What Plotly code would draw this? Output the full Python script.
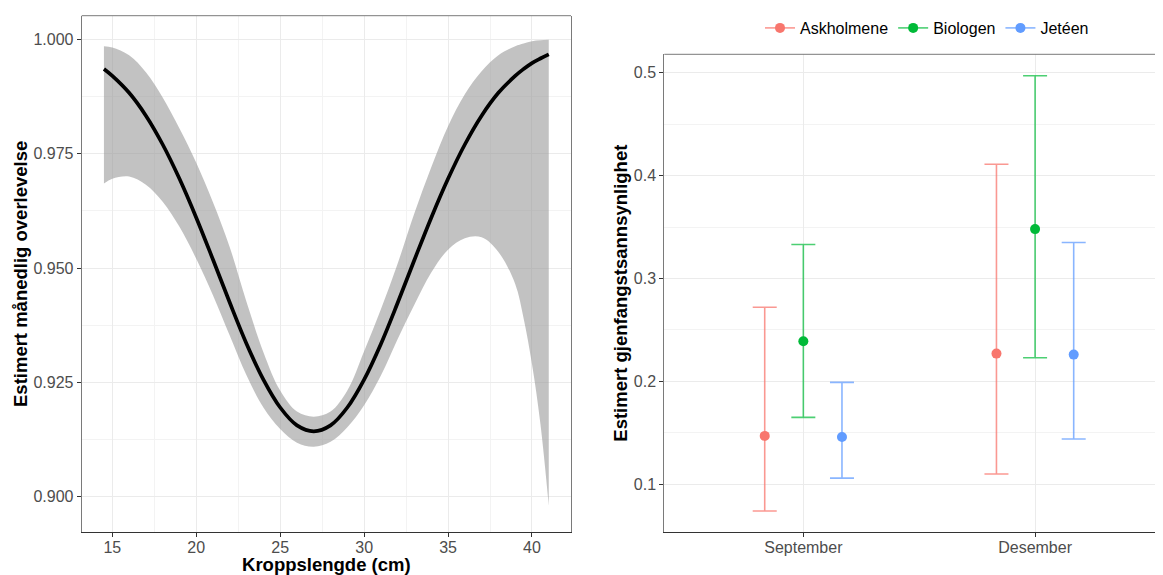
import plotly.graph_objects as go

# ---------------- Left panel data: monthly survival vs body length ----------------
length_cm = [14.5, 15, 16, 17, 18, 19, 20, 21, 22, 23, 24, 25, 26, 27, 28, 29, 30,
             31, 32, 33, 34, 35, 36, 37, 38, 39, 39.5, 40, 40.5, 41]
survival_est = [0.9935, 0.9920, 0.9883, 0.9833, 0.9770, 0.9695, 0.9610, 0.9518, 0.9424,
                0.9334, 0.9256, 0.9195, 0.9156, 0.9143, 0.9156, 0.9195, 0.9256, 0.9334,
                0.9424, 0.9518, 0.9610, 0.9695, 0.9770, 0.9833, 0.9883, 0.9920, 0.9935,
                0.9948, 0.9958, 0.9967]
survival_upper = [0.9985, 0.9982, 0.9965, 0.9928, 0.9873, 0.9805, 0.9730, 0.9643, 0.9545,
                  0.9425, 0.9316, 0.9232, 0.9186, 0.9175, 0.9186, 0.9232, 0.9318, 0.9410,
                  0.9510, 0.9620, 0.9720, 0.9810, 0.9880, 0.9930, 0.9965, 0.9985, 0.9991,
                  0.9996, 0.9998, 0.9999]
survival_lower = [0.9685, 0.9695, 0.9700, 0.9682, 0.9645, 0.9590, 0.9520, 0.9440, 0.9352,
                  0.9265, 0.9195, 0.9148, 0.9118, 0.9109, 0.9120, 0.9152, 0.9200, 0.9265,
                  0.9345, 0.9420, 0.9490, 0.9540, 0.9565, 0.9567, 0.9535, 0.9465, 0.9390,
                  0.9290, 0.9160, 0.8980]

x_ticks_left = [15, 20, 25, 30, 35, 40]
y_ticks_left = [0.900, 0.925, 0.950, 0.975, 1.000]
y_ticklabels_left = ["0.900", "0.925", "0.950", "0.975", "1.000"]

# ---------------- Right panel data: recapture probability ----------------
months = ["September", "Desember"]
sites = ["Askholmene", "Biologen", "Jetéen"]
site_colors = ["#F8766D", "#00BA38", "#619CFF"]
site_bar_colors = ["rgba(248,118,109,0.75)", "rgba(0,186,56,0.7)", "rgba(97,156,255,0.75)"]

askholmene_est = [0.147, 0.227]
askholmene_lo = [0.074, 0.110]
askholmene_hi = [0.272, 0.411]
biologen_est = [0.239, 0.348]
biologen_lo = [0.165, 0.223]
biologen_hi = [0.333, 0.497]
jeteen_est = [0.146, 0.226]
jeteen_lo = [0.106, 0.144]
jeteen_hi = [0.199, 0.335]

y_ticks_right = [0.1, 0.2, 0.3, 0.4, 0.5]

site_est = [askholmene_est, biologen_est, jeteen_est]
site_lo = [askholmene_lo, biologen_lo, jeteen_lo]
site_hi = [askholmene_hi, biologen_hi, jeteen_hi]
month_pos = [1, 2]
dodge = [-1 / 6, 0, 1 / 6]

# the page body has an 8px margin; size the figure so it lands on the window
OFF = 8
W, H = 1163 - OFF, 575 - OFF
FONT = "Liberation Sans, Arial, sans-serif"
TICK_COLOR = "#4D4D4D"
GRID = "#EBEBEB"
SMOOTH = 1.0

fig = go.Figure()

# Confidence band (left)
fig.add_trace(go.Scatter(x=length_cm, y=survival_upper, mode="lines",
                         line=dict(width=0, shape="spline", smoothing=SMOOTH),
                         showlegend=False, hoverinfo="skip", xaxis="x", yaxis="y"))
fig.add_trace(go.Scatter(x=length_cm, y=survival_lower, mode="lines",
                         line=dict(width=0, shape="spline", smoothing=SMOOTH),
                         fill="tonexty", fillcolor="rgba(153,153,153,0.6)",
                         showlegend=False, hoverinfo="skip", xaxis="x", yaxis="y"))
fig.add_trace(go.Scatter(x=length_cm, y=survival_est, mode="lines",
                         line=dict(color="black", width=3.7, shape="spline", smoothing=SMOOTH),
                         showlegend=False, xaxis="x", yaxis="y"))

# Point ranges (right)
for i, site in enumerate(sites):
    xs = [m + dodge[i] for m in month_pos]
    ys = site_est[i]
    plus = [h - e for h, e in zip(site_hi[i], ys)]
    minus = [e - l for e, l in zip(ys, site_lo[i])]
    fig.add_trace(go.Scatter(
        x=xs, y=ys, mode="markers",
        marker=dict(color=site_colors[i], size=10),
        error_y=dict(type="data", symmetric=False, array=plus, arrayminus=minus,
                     color=site_bar_colors[i], thickness=1.6, width=12),
        showlegend=False, xaxis="x2", yaxis="y2"))
    # legend key (point + line, like a pointrange key)
    fig.add_trace(go.Scatter(
        x=[None], y=[None], mode="lines+markers", name=site,
        line=dict(color=site_bar_colors[i], width=1.6),
        marker=dict(color=site_colors[i], size=10),
        showlegend=True, xaxis="x2", yaxis="y2"))


def px_x(v):
    return (v - OFF) / W


def px_y(v):
    return 1 - (v - OFF) / H


left_x0, left_x1 = px_x(81.7), px_x(571)
left_y0, left_y1 = px_y(532), px_y(15.7)
right_x0, right_x1 = px_x(664.3), 1.0
right_y0, right_y1 = px_y(532), px_y(54.3)

common_axis = dict(ticks="outside", ticklen=4, tickcolor="#333333", tickwidth=1,
                   tickfont=dict(family=FONT, size=16, color=TICK_COLOR),
                   showline=True, zeroline=False, gridcolor=GRID, gridwidth=1.1)

fig.update_layout(
    width=W, height=H,
    margin=dict(l=0, r=0, t=0, b=0),
    paper_bgcolor="white", plot_bgcolor="white",
    font=dict(family=FONT, color="black"),
    xaxis=dict(domain=[left_x0, left_x1], range=[13.175, 42.325],
               tickvals=x_ticks_left, linecolor="#333333", mirror=False,
               ticklabelstandoff=-3,
               minor=dict(tickvals=[17.5, 22.5, 27.5, 32.5, 37.5, 42.5], showgrid=True,
                          gridcolor="#F3F3F3", gridwidth=0.8, ticks=""),
               title=dict(text="<b>Kroppslengde (cm)</b>", standoff=3,
                          font=dict(family=FONT, size=18.5, color="black")),
               anchor="y", **common_axis),
    yaxis=dict(domain=[left_y0, left_y1], range=[0.89228, 1.00516],
               tickvals=y_ticks_left, ticktext=y_ticklabels_left,
               linecolor="#7A7A7A", mirror=True,
               minor=dict(tickvals=[0.9125, 0.9375, 0.9625, 0.9875], showgrid=True,
                          gridcolor="#F3F3F3", gridwidth=0.8, ticks=""),
               title=dict(text="<b>Estimert månedlig overlevelse</b>", standoff=0,
                          font=dict(family=FONT, size=18.5, color="black")),
               anchor="x", **common_axis),
    xaxis2=dict(domain=[right_x0, right_x1], range=[0.4, 2.552],
                tickvals=month_pos, ticktext=months, linecolor="#333333", mirror=False,
                ticklabelstandoff=-3,
                anchor="y2", **common_axis),
    yaxis2=dict(domain=[right_y0, right_y1], range=[0.0536, 0.5179],
                tickvals=y_ticks_right, ticktext=["0.1", "0.2", "0.3", "0.4", "0.5"],
                linecolor="#7A7A7A", mirror=False,
                minor=dict(tickvals=[0.15, 0.25, 0.35, 0.45], showgrid=True,
                           gridcolor="#F3F3F3", gridwidth=0.8, ticks=""),
                title=dict(text="<b>Estimert gjenfangstsannsynlighet</b>", standoff=1,
                           font=dict(family=FONT, size=18.5, color="black")),
                anchor="x2", **common_axis),
    legend=dict(orientation="h", x=px_x(927), xanchor="center", y=px_y(28), yanchor="middle",
                traceorder="normal",
                font=dict(family=FONT, size=16, color="black"),
                bgcolor="rgba(0,0,0,0)", itemwidth=30, tracegroupgap=0),
    shapes=[
        dict(type="line", xref="paper", yref="paper", x0=left_x0, x1=left_x1,
             y0=left_y1, y1=left_y1, line=dict(color="#7A7A7A", width=1)),
        dict(type="line", xref="paper", yref="paper", x0=right_x0, x1=right_x1,
             y0=right_y1, y1=right_y1, line=dict(color="#7A7A7A", width=1)),
    ],
)

fig.write_html("out.html")
